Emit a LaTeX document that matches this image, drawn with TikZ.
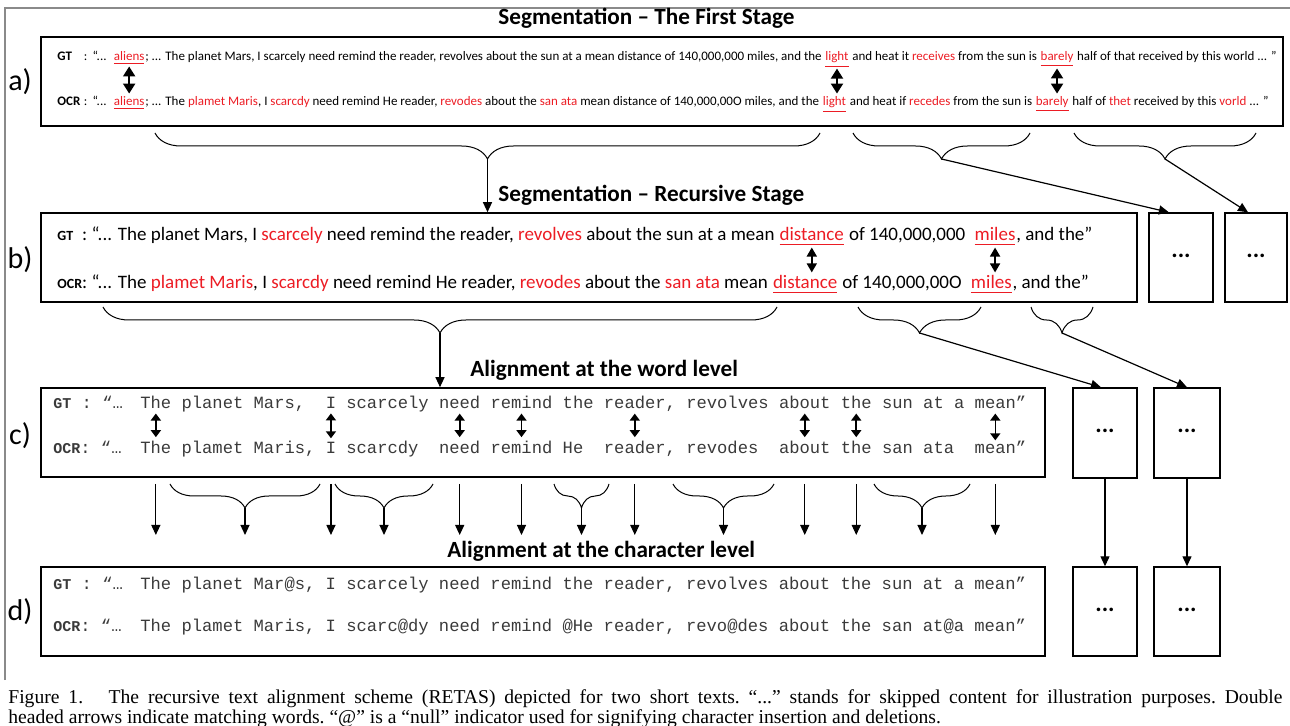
\documentclass[tikz,border=0pt]{standalone}
\usepackage{fontspec}
\usepackage{calc}
\setmainfont{Carlito}
\newfontfamily\monof{Liberation Mono}
\newfontfamily\capf{Liberation Serif}
\usepackage{xcolor}
\usetikzlibrary{positioning, arrows.meta, fit, decorations.pathreplacing}
\definecolor{ocrred}{HTML}{EC1C24}
\definecolor{framegray}{HTML}{8A8A8A}
\definecolor{monogray}{HTML}{3A3A3A}
\newcommand{\err}[1]{\textcolor{ocrred}{#1}}
\newcommand{\hit}[1]{\textcolor{ocrred}{\underline{#1}}}
\newcommand{\gap}{\kern\fontdimen2\font}
\newcommand{\laba}[1]{\makebox[2.3em][l]{\textbf{#1}\hfill:}\hspace{0.4em}“...\kern0.5em}
\newcommand{\labb}[1]{\makebox[\widthof{{\scriptsize\bfseries OCR}:}][l]{{\scriptsize\bfseries #1}\hfill:}}
\newcommand{\labc}[1]{{\fontsize{7.5}{8}\selectfont\bfseries #1}}

\begin{document}
\begin{tikzpicture}[x=0.5pt, y=-0.5pt,
    panel/.style={draw, line width=0.8pt, inner sep=0pt},
    dotbox/.style={draw, line width=0.7pt, inner sep=0pt, font=\fontsize{12}{12}\selectfont\bfseries},
    lbl/.style={inner sep=0pt, font=\fontsize{15}{15}\selectfont},
    ttl/.style={anchor=west, inner sep=0pt, font=\fontsize{11.6}{12}\selectfont\bfseries},
    rowa/.style={anchor=base west, inner sep=0pt, font=\fontsize{6.5}{7}\selectfont},
    rowb/.style={anchor=base west, inner sep=0pt, font=\fontsize{9.5}{10}\selectfont},
    rowc/.style={anchor=base west, inner sep=0pt, text=monogray, font=\monof\fontsize{8.58}{9}\selectfont},
    brc/.style={decorate, decoration={brace, mirror, amplitude=#1}, line width=0.5pt},
    arr/.style={-{Triangle[length=5pt, width=4.5pt]}, line width=0.6pt},
    dbla/.style={{Triangle[length=5pt, width=6pt]}-{Triangle[length=5pt, width=6pt]}, line width=1pt, shorten <=0.5pt, shorten >=1.5pt},
    dblb/.style={{Triangle[length=4.5pt, width=5pt]}-{Triangle[length=4.5pt, width=5pt]}, line width=0.8pt, shorten <=1pt, shorten >=1.5pt},
    dblc/.style={{Triangle[length=3.5pt, width=5pt]}-{Triangle[length=3.5pt, width=5pt]}, line width=0.8pt, shorten <=2pt, shorten >=2pt}
  ]
  \useasboundingbox (0,0) rectangle (1290,726);
  % frame of the scanned figure
  \draw[framegray, line width=0.6pt] (5,680) -- (5,8) -- (1290,8);

  % titles
  \node[ttl] (t1) at (498,18) {Segmentation -- The First Stage};
  \node[ttl] (t2) at (498,195) {Segmentation -- Recursive Stage};
  \node[ttl] (t3) at (470,370) {Alignment at the word level};
  \node[ttl] (t4) at (447,551) {Alignment at the character level};

  % panels
  \node[panel, fit={(41,37) (1283,126)}] (boxA) {};
  \node[panel, fit={(41,213) (1137,302)}] (boxB) {};
  \node[panel, fit={(41,388) (1045,477)}] (boxC) {};
  \node[panel, fit={(41,567) (1045,656)}] (boxD) {};
  \node[dotbox, fit={(1149,213) (1213,302)}] (sb1) {...};
  \node[dotbox, fit={(1225,213) (1287,302)}] (sb2) {...};
  \node[dotbox, fit={(1073,388) (1137,478)}] (sc1) {...};
  \node[dotbox, fit={(1154,388) (1220,478)}] (sc2) {...};
  \node[dotbox, fit={(1073,567) (1137,656)}] (sd1) {...};
  \node[dotbox, fit={(1154,567) (1220,656)}] (sd2) {...};

  \node[lbl] (la) at (20,82) {a)};
  \node[lbl] (lb) at (20,260) {b)};
  \node[lbl] (lc) at (20,436) {c)};
  \node[lbl] (ld) at (20,612) {d)};

  % a) first stage
  \node[rowa] (ga0) at (57,61) {\laba{GT}};
  \node[rowa] (ga1) at (ga0.base east) {\hit{aliens}};
  \node[rowa] (ga2) at (ga1.base east) {; ... The planet Mars, I scarcely need remind the reader, revolves about the sun at a mean distance of 140,000,000 miles, and the\gap};
  \node[rowa] (ga3) at (ga2.base east) {\hit{light}};
  \node[rowa] (ga4) at (ga3.base east) {\ and heat it \err{receives} from the sun is\gap};
  \node[rowa] (ga5) at (ga4.base east) {\hit{barely}};
  \node[rowa] (ga6) at (ga5.base east) {\ half of that received by this world ... ”};

  \node[rowa] (oa0) at (57,106) {\laba{OCR}};
  \node[rowa] (oa1) at (oa0.base east) {\hit{aliens}};
  \node[rowa] (oa2) at (oa1.base east) {; ... The \err{plamet Maris}, I \err{scarcdy} need remind He reader, \err{revodes} about the \err{san ata} mean distance of 140,000,00O miles, and the\gap};
  \node[rowa] (oa3) at (oa2.base east) {\hit{light}};
  \node[rowa] (oa4) at (oa3.base east) {\ and heat if \err{recedes} from the sun is\gap};
  \node[rowa] (oa5) at (oa4.base east) {\hit{barely}};
  \node[rowa] (oa6) at (oa5.base east) {\ half of \err{thet} received by this \err{vorld} ... ”};

  \foreach \k in {1,3,5}
    \draw[dbla] (ga\k.south) -- (ga\k.south |- oa\k.north);

  % braces under a)
  \draw[brc=13pt] (155,133) -- (820,133);
  \draw[brc=13pt] (853,133) -- (1030,133);
  \draw[brc=13pt] (1074,133) -- (1256,133);
  \coordinate (ta1) at (487.5,159);
  \coordinate (ta2) at (941.5,159);
  \coordinate (ta3) at (1165,159);
  \draw[arr] (ta1) -- (ta1 |- boxB.north);
  \draw[arr] (ta2) -- (sb1.105);
  \draw[arr] (ta3) -- (sb2.100);

  % b) recursive stage
  \node[rowb] (gb0) at (57,241) {\labb{GT} “... The planet Mars, I \err{scarcely} need remind the reader, \err{revolves} about the sun at a mean\gap};
  \node[rowb] (gb1) at (gb0.base east) {\hit{distance}};
  \node[rowb] (gb2) at (gb1.base east) {\ of 140,000,000\gap\gap};
  \node[rowb] (gb3) at (gb2.base east) {\hit{miles}};
  \node[rowb] (gb4) at (gb3.base east) {, and the”};

  \node[rowb] (ob0) at (57,289) {\labb{OCR} “... The \err{plamet Maris}, I \err{scarcdy} need remind He reader, \err{revodes} about the \err{san ata} mean\gap};
  \node[rowb] (ob1) at (ob0.base east) {\hit{distance}};
  \node[rowb] (ob2) at (ob1.base east) {\ of 140,000,00O\gap\gap};
  \node[rowb] (ob3) at (ob2.base east) {\hit{miles}};
  \node[rowb] (ob4) at (ob3.base east) {, and the”};

  \foreach \k in {1,3}
    \draw[dblb] (gb\k.south) -- (gb\k.south |- ob\k.north);

  % braces under b)
  \draw[brc=13pt] (103,307) -- (777,307);
  \draw[brc=13pt] (858,307) -- (981,307);
  \draw[brc=13pt] (1031,307) -- (1093,307);
  \coordinate (tb1) at (440,333);
  \coordinate (tb2) at (919.5,333);
  \coordinate (tb3) at (1062,333);
  \draw[arr] (tb1) -- (tb1 |- boxC.north);
  \draw[arr] (tb2) -- (sc1.95);
  \draw[arr] (tb3) -- (sc2.north);

  % c) word level
  \node[rowc] (gcp) at (53,409) {\labc{GT} : “…};
  \node[rowc] (ocp) at (53,454) {\labc{OCR}: “…};
  \foreach \w/\c in {The/0, planet/4, {Mars,}/11, I/18, scarcely/20, need/29, remind/34, the/41, reader/45, {,}/51, revolves/53, about/62, the/68, sun/72, at/76, a/79, mean/81, ”/85}
    \node[rowc] (gw\c) at ({140+\c*10.3},409) {\w};
  \foreach \w/\c in {The/0, plamet/4, {Maris,}/11, I/18, scarcdy/20, need/29, remind/34, He/41, reader/45, {,}/51, revodes/53, about/62, the/68, san/72, ata/76, mean/81, ”/85}
    \node[rowc] (ow\c) at ({140+\c*10.3},454) {\w};
  \foreach \c in {0,18,29,34,45,62,68,81}
    \draw[dblc] (gw\c) -- (ow\c);

  % below c)
  \foreach \c in {0,18,29,34,45,62,68,81}
    \draw[arr] (ow\c.south |- 0,484) -- (ow\c.south |- 0,535);
  \foreach \l/\r in {170/320, 335/433, 554/609, 673/774, 874/970} {
    \draw[brc=12pt] (\l,484) -- (\r,484);
    \draw[arr] ({(\l+\r)/2},508) -- ({(\l+\r)/2},535);
  }
  \draw[arr] (sc1) -- (sd1);
  \draw[arr] (sc2) -- (sd2);

  % d) character level
  \node[rowc] (gdp) at (53,589) {\labc{GT} : “…};
  \node[rowc] (odp) at (53,632) {\labc{OCR}: “…};
  \node[rowc] (gd) at (140,589) {The planet Mar@s, I scarcely need remind the reader, revolves about the sun at a mean”};
  \node[rowc] (od) at (140,632) {The plamet Maris, I scarc@dy need remind @He reader, revo@des about the san at@a mean”};

  % caption
  \node[anchor=north west, inner sep=0pt, text width=637pt, align=justify, font=\capf\fontsize{9.8}{8.7}\selectfont\frenchspacing] (capt) at (8,689)
    {Figure 1.\hspace{1.3em}The recursive text alignment scheme (RETAS) depicted for two short texts. “...” stands for skipped content for illustration purposes. Double\linebreak headed arrows indicate matching words. “@” is a “null” indicator used for signifying character insertion and deletions.};
\end{tikzpicture}
\end{document}
